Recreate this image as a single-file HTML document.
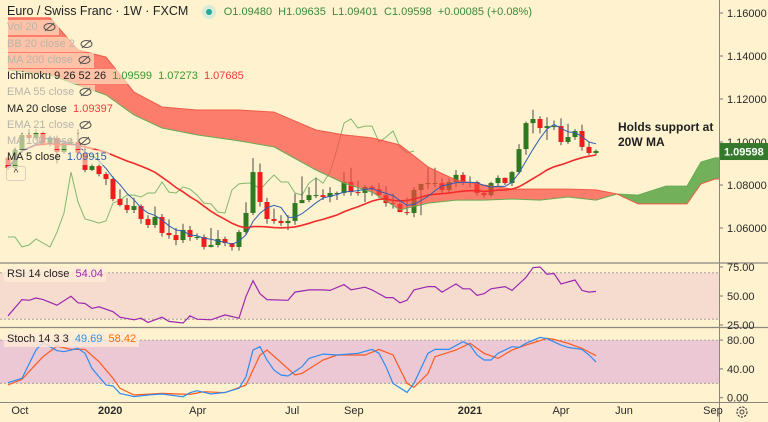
<!DOCTYPE html>
<html><head><meta charset="utf-8">
<style>
html,body{margin:0;padding:0;}
body{width:768px;height:422px;overflow:hidden;background:#fff2cf;font-family:"Liberation Sans",sans-serif;position:relative;}
#chart{position:absolute;left:0;top:0;}
.lg{position:absolute;left:4px;font-size:11px;line-height:14px;height:15px;padding:0 3px;background:rgba(255,242,207,0.6);white-space:nowrap;color:#222;}
.fd{color:#b9b4ab;}
.eye{display:inline-block;vertical-align:middle;margin-left:5px;}
</style></head>
<body>
<svg id="chart" width="768" height="422"></svg>

<div class="lg" style="top:4px;font-size:12.5px;background:none;">Euro / Swiss Franc · 1W · FXCM <span style="display:inline-block;width:14px;height:14px;border-radius:7px;background:#d6ecd9;vertical-align:middle;margin:0 8px 0 10px;position:relative;"><span style="position:absolute;left:4px;top:4px;width:6px;height:6px;border-radius:3px;background:#26a69a;"></span></span><span style="color:#3b8a3a;font-size:11px;">O1.09480&nbsp; H1.09635&nbsp; L1.09401&nbsp; C1.09598&nbsp; +0.00085 (+0.08%)</span></div>

<div class="lg fd" style="top:20px">Vol 20<svg class="eye" width="13" height="10"><ellipse cx="6.5" cy="5" rx="5.5" ry="3.5" fill="none" stroke="#555" stroke-width="1"/><line x1="2" y1="9" x2="11" y2="1" stroke="#555"/></svg></div>
<div class="lg fd" style="top:37px">BB 20 close 2<svg class="eye" width="13" height="10"><ellipse cx="6.5" cy="5" rx="5.5" ry="3.5" fill="none" stroke="#555"/><line x1="2" y1="9" x2="11" y2="1" stroke="#555"/></svg></div>
<div class="lg fd" style="top:53px">MA 200 close<svg class="eye" width="13" height="10"><ellipse cx="6.5" cy="5" rx="5.5" ry="3.5" fill="none" stroke="#555"/><line x1="2" y1="9" x2="11" y2="1" stroke="#555"/></svg></div>
<div class="lg" style="top:69px">Ichimoku 9 26 52 26&nbsp; <span style="color:#3a9a2e">1.09599</span>&nbsp; <span style="color:#3a9a2e">1.07273</span>&nbsp; <span style="color:#f03c3c">1.07685</span></div>
<div class="lg fd" style="top:85px">EMA 55 close<svg class="eye" width="13" height="10"><ellipse cx="6.5" cy="5" rx="5.5" ry="3.5" fill="none" stroke="#555"/><line x1="2" y1="9" x2="11" y2="1" stroke="#555"/></svg></div>
<div class="lg" style="top:102px">MA 20 close&nbsp; <span style="color:#f03c3c">1.09397</span></div>
<div class="lg fd" style="top:118px">EMA 21 close<svg class="eye" width="13" height="10"><ellipse cx="6.5" cy="5" rx="5.5" ry="3.5" fill="none" stroke="#555"/><line x1="2" y1="9" x2="11" y2="1" stroke="#555"/></svg></div>
<div class="lg fd" style="top:134px">MA 100 close<svg class="eye" width="13" height="10"><ellipse cx="6.5" cy="5" rx="5.5" ry="3.5" fill="none" stroke="#555"/><line x1="2" y1="9" x2="11" y2="1" stroke="#555"/></svg></div>
<div class="lg" style="top:150px">MA 5 close&nbsp; <span style="color:#2b5fb4">1.09915</span></div>
<div style="position:absolute;left:6px;top:166px;width:18px;height:13px;border:1px solid #d8d0bd;border-radius:3px;background:rgba(255,242,207,0.7);font-size:10px;text-align:center;line-height:14px;color:#333;">^</div>

<div class="lg" style="top:267px;background:rgba(255,235,215,0.8)">RSI 14 close&nbsp; <span style="color:#9c27b0">54.04</span></div>
<div class="lg" style="top:332px;background:rgba(255,235,215,0.8)">Stoch 14 3 3&nbsp; <span style="color:#2196f3">49.69</span>&nbsp; <span style="color:#ff6d00">58.42</span></div>

<div style="position:absolute;left:618px;top:120px;font-size:12px;line-height:15px;color:#1e1e1e;font-weight:bold;">Holds support at<br>20W MA</div>

<script>
// ---- data ----
const closes = [1.0879,1.0963,1.1033,1.1019,1.1042,1.0995,1.1019,1.0953,1.0995,1.1000,
1.0949,1.0870,1.0888,1.0851,1.0828,1.0735,1.0707,1.0684,1.0702,1.0642,
1.0614,1.0651,1.0577,1.0567,1.0544,1.0591,1.0558,1.0558,1.0512,1.0521,
1.0549,1.0530,1.0512,1.0581,1.0670,1.0860,1.0721,1.0642,1.0633,1.0623,
1.0633,1.0716,1.0730,1.0753,1.0753,1.0744,1.0763,1.0763,1.0814,1.0767,
1.0763,1.0791,1.0781,1.0753,1.0716,1.0712,1.0674,1.0670,1.0777,1.0805,
1.0809,1.0809,1.0777,1.0814,1.0847,1.0814,1.0814,1.0763,1.0753,1.0809,
1.0833,1.0809,1.0860,1.0967,1.1088,1.1107,1.1065,1.1074,1.1074,1.1000,
1.1023,1.1051,1.0977,1.0949,1.0958];
const firstOpen = 1.0926;
const highs = [1.0935,1.0975,1.1045,1.1060,1.1060,1.1050,1.1030,1.1030,1.1005,1.1020,
1.1060,1.0985,1.0900,1.0900,1.0860,1.0840,1.0780,1.0740,1.0740,1.0710,
1.0660,1.0700,1.0665,1.0640,1.0600,1.0620,1.0610,1.0575,1.0570,1.0600,
1.0590,1.0560,1.0530,1.0590,1.0720,1.0925,1.0900,1.0740,1.0690,1.0660,
1.0660,1.0760,1.0840,1.0790,1.0830,1.0780,1.0790,1.0770,1.0860,1.0880,
1.0820,1.0800,1.0800,1.0810,1.0795,1.0760,1.0720,1.0740,1.0790,1.0800,
1.0880,1.0880,1.0830,1.0830,1.0870,1.0860,1.0840,1.0820,1.0770,1.0815,
1.0845,1.0835,1.0865,1.0990,1.1095,1.1150,1.1120,1.1115,1.1100,1.1110,
1.1085,1.1060,1.1080,1.1000,1.0965];
const lows = [1.0870,1.0870,1.0950,1.1010,1.1010,1.0985,1.0980,1.0900,1.0945,1.0985,
1.0940,1.0860,1.0865,1.0840,1.0800,1.0725,1.0700,1.0670,1.0670,1.0620,
1.0600,1.0600,1.0560,1.0550,1.0520,1.0530,1.0540,1.0545,1.0500,1.0510,
1.0510,1.0515,1.0495,1.0495,1.0570,1.0660,1.0700,1.0620,1.0620,1.0610,
1.0590,1.0615,1.0715,1.0720,1.0740,1.0730,1.0720,1.0730,1.0750,1.0750,
1.0750,1.0720,1.0750,1.0740,1.0700,1.0690,1.0690,1.0660,1.0650,1.0660,
1.0780,1.0790,1.0760,1.0760,1.0790,1.0800,1.0790,1.0750,1.0740,1.0745,
1.0790,1.0800,1.0795,1.0850,1.0940,1.1040,1.1040,1.1010,1.1055,1.0985,
1.0990,1.1010,1.0960,1.0940,1.0940];
const cloudIdx = [0,6,10,14,18,22,27,33,38,44,48,52,56,60,64,68,72,76,80,84,87,90,94,97,99,101,103];
const spanB = [1.1577,1.1577,1.1428,1.1395,1.1232,1.1163,1.1149,1.1149,1.1139,1.1056,1.1033,1.1019,1.0986,1.0884,1.0823,1.0800,1.0781,1.0781,1.0781,1.0777,1.0758,1.0712,1.0712,1.0712,1.0805,1.0828,1.0828];
const spanA = [1.1335,1.1312,1.1265,1.1219,1.1126,1.1065,1.1033,1.1005,1.0977,1.0870,1.0809,1.0767,1.0684,1.0716,1.0730,1.0730,1.0735,1.0730,1.0744,1.0730,1.0758,1.0753,1.0795,1.0795,1.0907,1.0926,1.0926];
const rsiIdx = [0,2,3,4,5,7,9,10,11,12,13,15,16,18,19,20,22,23,25,26,27,29,31,33,34,35,36,37,40,41,43,45,46,48,49,51,52,54,55,56,57,58,60,61,62,64,65,66,67,68,69,71,72,74,75,76,77,78,79,81,82,83,84];
const rsiVal = [32.9,46.9,46.3,48.3,46.9,42.1,49.7,44.1,43.5,39.3,40.7,36.5,31.7,29.5,30.9,27.2,31.7,28.1,26.7,32.9,30.0,29.5,33.7,30.9,49.7,63.2,52.0,46.9,46.3,53.4,55.3,55.3,54.8,59.8,55.3,57.6,55.3,48.6,48.6,44.1,46.3,55.3,58.1,58.1,53.4,60.4,56.2,56.2,50.6,52.0,56.2,58.1,54.8,66.0,74.4,75.0,68.8,69.4,60.4,63.8,54.8,53.4,54.0];
const kIdx = [0,2,4,5,7,8,10,11,12,14,15,16,18,20,22,25,26,27,29,31,33,34,35,36,37,38,39,40,42,43,45,47,50,52,53,54,55,57,58,60,61,63,65,66,67,68,69,70,72,73,74,76,77,79,80,82,83,84];
const kVal = [20.8,26.9,66.2,76.4,65.3,63.9,68.5,61.6,40.7,17.6,16.2,6.0,1.4,3.7,5.1,1.4,6.9,9.7,5.1,7.4,13.0,29.2,66.2,70.8,52.3,38.4,31.5,30.1,43.1,54.6,60.6,59.3,61.6,67.1,61.6,43.1,19.9,7.4,19.9,61.6,67.1,67.1,77.8,73.1,59.3,52.3,52.3,61.6,70.8,69.9,75.5,83.8,81.9,73.1,69.9,67.1,59.3,49.7];
const dIdx = [0,2,3,5,7,9,11,13,15,16,18,22,26,28,31,34,36,37,41,42,45,47,51,53,55,57,58,60,61,64,66,68,70,72,74,77,78,80,82,84];
const dVal = [17.6,25.5,36.1,56.9,71.8,67.1,67.1,50.0,26.9,13.0,3.7,6.0,4.6,8.3,6.9,17.6,59.3,66.2,31.5,33.8,52.3,59.3,59.3,67.1,59.3,19.9,14.4,33.8,56.9,66.2,75.5,61.6,54.6,66.2,73.1,82.4,81.0,75.5,68.5,58.4];
const priceTicks = [1.16,1.14,1.12,1.10,1.08,1.06];
const rsiTicks = [75,50,25];
const stochTicks = [80,40,0];
const timeLabels = ["Oct","2020","Apr","Jul","Sep","2021","Apr","Jun","Sep"];
const timeIdx = [1.7,14.6,27.1,40.6,49.4,66,79,88,100.7];

// ---- axes ----
const xI = i => 8 + 7*i;
const yP = p => 185 - (p-1.08)*2150;
const yR = v => 296 - (v-50)*1.16;
const yS = v => 397.7 - v*0.72;
const NS = "http://www.w3.org/2000/svg";
const svg = document.getElementById('chart');
function mk(tag, attrs, parent){const e=document.createElementNS(NS,tag);for(const k in attrs)e.setAttribute(k,attrs[k]);(parent||svg).appendChild(e);return e;}

let e;
e = mk('rect',{x:0,y:yR(70),width:719,height:yR(30)-yR(70),fill:'#f6dccf'});


e = mk('rect',{x:0,y:yS(80),width:719,height:yS(20)-yS(80),fill:'#ebc8d4'});


[[yR(70)],[yR(30)],[yS(80)],[yS(20)]].forEach(a=>{mk('line',{x1:0,x2:719,y1:a[0],y2:a[0],stroke:'#9a9490','stroke-width':0.8,'stroke-dasharray':'2,2'});});

let ch=[];
for(let i=26;i<closes.length;i++) ch.push(xI(i-26)+','+yP(closes[i]).toFixed(1));
e = mk('polyline',{points:ch.join(' '),fill:'none',stroke:'#7fb870','stroke-width':1});



for(let i=0;i<closes.length;i++){
  const o = i===0?firstOpen:closes[i-1], c=closes[i];
  const up = c>=o;
  const col = up?'#2f7a20':'#f01c1c';
  const hi=Math.max(highs[i],o,c), lo=Math.min(lows[i],o,c);
  const g = mk('g',{});
  
  
  mk('line',{x1:xI(i),x2:xI(i),y1:yP(hi),y2:yP(lo),stroke:'#4a4a4a','stroke-width':1},g);
  const t=yP(Math.max(o,c)), b=yP(Math.min(o,c));
  mk('rect',{x:xI(i)-2.5,y:t,width:5,height:Math.max(1,b-t),fill:col},g);
}

for(let k=0;k<cloudIdx.length-1;k++){
  const x1=xI(cloudIdx[k]), x2=xI(cloudIdx[k+1]);
  const a1=spanA[k],a2=spanA[k+1],b1=spanB[k],b2=spanB[k+1];
  const green = (a1+a2)>(b1+b2);
  e = mk('polygon',{points:`${x1},${yP(a1)} ${x2},${yP(a2)} ${x2},${yP(b2)} ${x1},${yP(b1)}`,fill:green?'rgba(60,150,45,0.72)':'rgba(250,70,60,0.68)'});
  
  
}
e = mk('polyline',{points:cloudIdx.map((c,k)=>xI(c)+','+yP(spanA[k]).toFixed(1)).join(' '),fill:'none',stroke:'#6aaa55','stroke-width':1});


e = mk('polyline',{points:cloudIdx.map((c,k)=>xI(c)+','+yP(spanB[k]).toFixed(1)).join(' '),fill:'none',stroke:'#f05a4a','stroke-width':1});



function sma(n){return closes.map((_,i)=>{const s=Math.max(0,i-n+1);let t=0;for(let j=s;j<=i;j++)t+=closes[j];return t/(i-s+1);});}
const ma20=sma(20), ma5=sma(5);
e = mk('polyline',{points:ma20.map((v,i)=>xI(i)+','+yP(v).toFixed(1)).join(' '),fill:'none',stroke:'#f22b2b','stroke-width':1.6});


e = mk('polyline',{points:ma5.map((v,i)=>xI(i)+','+yP(v).toFixed(1)).join(' '),fill:'none',stroke:'#2b5fb4','stroke-width':1});



e = mk('polyline',{points:rsiIdx.map((c,k)=>xI(c)+','+yR(rsiVal[k]).toFixed(1)).join(' '),fill:'none',stroke:'#9c27b0','stroke-width':1.2});


e = mk('polyline',{points:dIdx.map((c,k)=>xI(c)+','+yS(dVal[k]).toFixed(1)).join(' '),fill:'none',stroke:'#ff5a1f','stroke-width':1.2});


e = mk('polyline',{points:kIdx.map((c,k)=>xI(c)+','+yS(kVal[k]).toFixed(1)).join(' '),fill:'none',stroke:'#2f8cf0','stroke-width':1.2});



mk('rect',{x:719,y:0,width:49,height:422,fill:'#fff2cf'});
mk('line',{x1:0,x2:768,y1:263,y2:263,stroke:'#8a8680','stroke-width':1.2});
mk('line',{x1:0,x2:768,y1:327.5,y2:327.5,stroke:'#8a8680','stroke-width':1.2});
mk('line',{x1:0,x2:768,y1:402.5,y2:402.5,stroke:'#8a8680','stroke-width':1});
mk('line',{x1:719.5,x2:719.5,y1:0,y2:422,stroke:'#8a8680','stroke-width':1});

function tick(y,label,name){
  mk('line',{x1:719,x2:723,y1:y,y2:y,stroke:'#777'});
  const t=mk('text',{x:727,y:y+4,'font-size':11,fill:'#2a2a2a','font-family':'Liberation Sans, sans-serif'});
  t.textContent=label;
  
  
}
priceTicks.forEach(p=>tick(yP(p),p.toFixed(5),'price-tick-label'));
rsiTicks.forEach(v=>tick(yR(v),v.toFixed(2),'rsi-tick-label'));
stochTicks.forEach(v=>tick(yS(v),v.toFixed(2),'stoch-tick-label'));

const cy=yP(closes[closes.length-1]);
e = mk('rect',{x:720,y:cy-8,width:48,height:17,fill:'#357a2c'});


e = mk('text',{x:724,y:cy+4.5,'font-size':11,'font-weight':'bold',fill:'#fff','font-family':'Liberation Sans, sans-serif'});
e.textContent='1.09598';



timeLabels.forEach((l,k)=>{
  const t=mk('text',{x:xI(timeIdx[k]),y:414,'font-size':11,'text-anchor':'middle',fill:'#2a2a2a','font-weight':(l.length===4?'bold':'normal'),'font-family':'Liberation Sans, sans-serif'});
  t.textContent=l;
  
  
});
e = mk('g',{});


mk('circle',{cx:742,cy:412,r:5,fill:'none',stroke:'#444','stroke-width':1.2,'stroke-dasharray':'2.2,1.2'},e);
mk('circle',{cx:742,cy:412,r:2,fill:'none',stroke:'#444','stroke-width':1},e);
</script>
</body></html>
